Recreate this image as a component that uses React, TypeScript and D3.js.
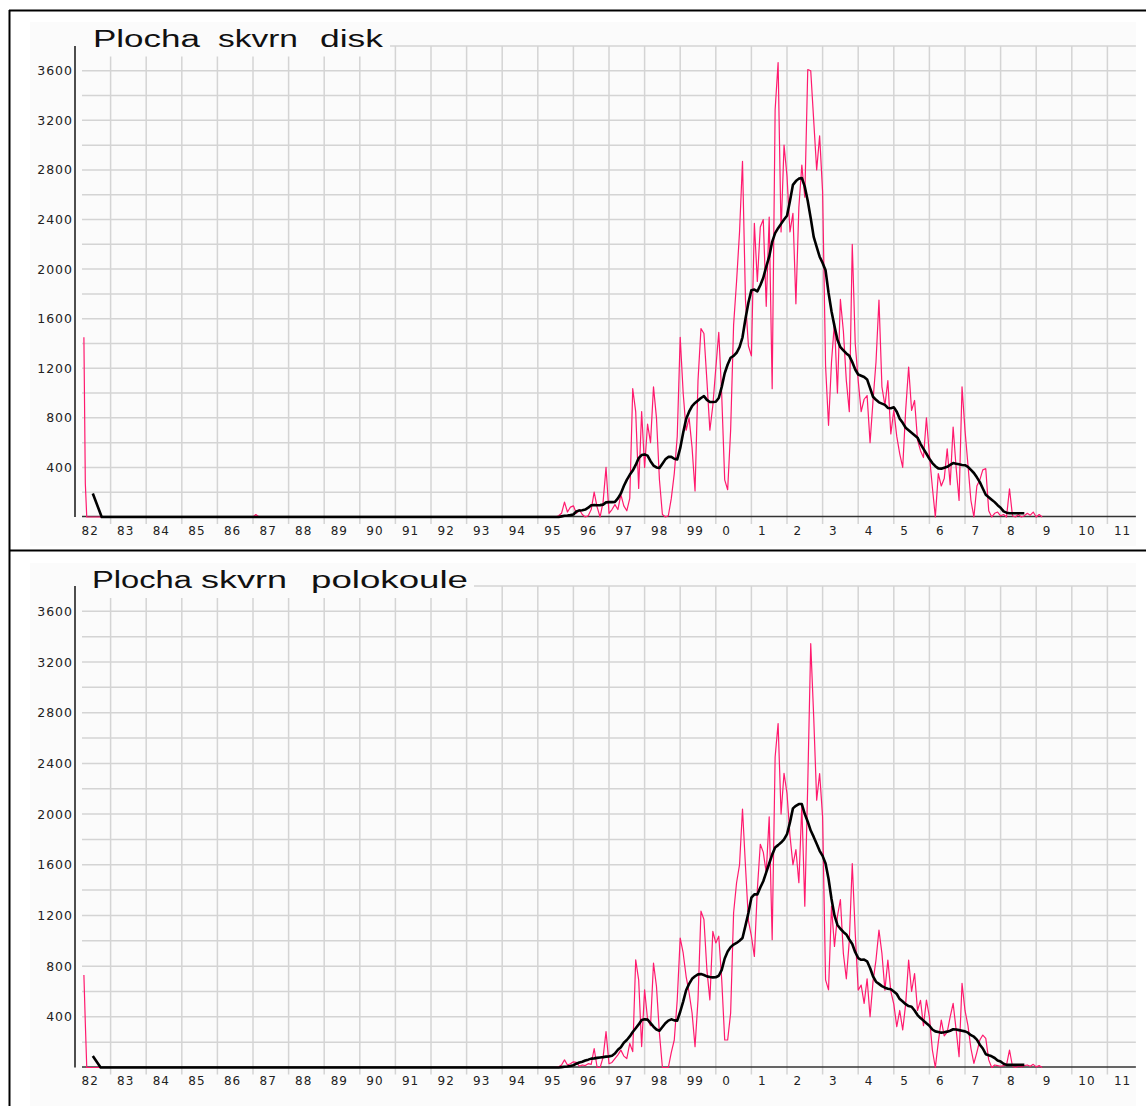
import React from 'react';
import * as d3 from 'd3';

const W = 1146;
const H = 1106;

// ---------- axis data ----------
const X_START = 1982;
const X_END = 2011.8;
const gridYears = d3.range(1983, 2012);
const labelYears = d3.range(1982, 2012);
const xTickLabels = ['82','83','84','85','86','87','88','89','90','91','92','93','94','95','96','97','98','99','0','1','2','3','4','5','6','7','8','9','10','11'];
const yTickValues = [400, 800, 1200, 1600, 2000, 2400, 2800, 3200, 3600];
const yGridValues = [200, 400, 600, 800, 1000, 1200, 1400, 1600, 1800, 2000, 2200, 2400, 2600, 2800, 3000, 3200, 3400, 3600, 3800];

// ---------- series data ----------
const MONTHLY_START = 1995.5; // July 1995, one value per month

// Panel 1 : "Plocha skvrn disk"
const diskPinkEarlyT = [1982.25, 1982.29, 1982.33, 1987.0, 1987.08, 1987.17];
const diskPinkEarlyV = [1450, 270, 0, 0, 20, 0];
const diskBlackEarlyT = [1982.5, 1982.75];
const diskBlackEarlyV = [190, 0];
const diskPink = [
  0, 10, 30, 120, 40, 80,
  90, 30, 60, 20, 0, 10, 60, 200, 80, 0, 120, 400,
  30, 60, 100, 60, 180, 90, 50, 150, 1035, 850, 230, 850,
  400, 750, 600, 1050, 800, 300, 20, 0, 10, 150, 350, 650,
  1450, 1000, 700, 800, 560, 210, 1100, 1520, 1480, 1100, 700, 900,
  1200, 1490, 980, 300, 220, 700, 1550, 1900, 2300, 2870, 1750, 1380,
  1300, 2370, 1900, 2340, 2400, 1700, 2420, 1035, 3285, 3667, 2300, 3000,
  2750, 2300, 2450, 1720, 2500, 2840, 2580, 3610, 3600, 3200, 2800, 3075,
  2625, 1220, 740, 1250, 1570, 1000, 1755, 1500, 1100, 850, 2200, 1400,
  1100, 850, 950, 980, 600, 940, 1250, 1750, 1050, 900, 1100, 670,
  860, 650, 510, 400, 860, 1210, 860, 940, 620, 535, 480, 800,
  500, 240, 0, 350, 250, 310, 550, 260, 726, 400, 133, 1050,
  700, 420, 133, 0, 250, 300, 380, 390, 50, 0, 30, 40,
  10, 20, 0, 228, 10, 0, 20, 0, 10, 30, 15, 40,
  0, 20, 0,
];
const diskBlack = [
  0, 0, 5, 10, 12, 15,
  20, 45, 52, 55, 60, 75, 95, 96, 95, 96, 100, 118,
  120, 120, 122, 150, 190, 250, 300, 340, 375, 420, 475, 500,
  505, 495, 450, 415, 400, 395, 430, 465, 485, 485, 470, 465,
  555, 680, 790, 850, 895, 920, 940, 960, 975, 945, 928, 928,
  930, 960, 1050, 1160, 1230, 1285, 1300, 1325, 1370, 1450, 1600, 1730,
  1830, 1835, 1820, 1870, 1930, 2020, 2100, 2220, 2290, 2330, 2365, 2400,
  2430, 2550, 2680, 2710, 2730, 2735, 2665, 2550, 2410, 2260, 2180, 2100,
  2050, 1990, 1810, 1660, 1540, 1430, 1370, 1345, 1320, 1300, 1250, 1190,
  1150, 1140, 1130, 1110, 1040, 970, 945, 925, 915, 905, 880, 878,
  885, 850, 793, 760, 720, 700, 680, 660, 640, 590, 550, 510,
  470, 435, 410, 392, 390, 398, 405, 420, 435, 430, 425, 420,
  418, 405, 380, 355, 320, 281, 230, 180, 160, 140, 120, 95,
  75, 45, 35, 30, 30, 30, 30, 30, 30,
];

// Panel 2 : "Plocha skvrn polokoule"
const hemiPinkEarlyT = [1982.25, 1982.29, 1982.33];
const hemiPinkEarlyV = [730, 350, 0];
const hemiBlackEarlyT = [1982.5, 1982.72];
const hemiBlackEarlyV = [90, 0];
const hemiPink = [
  0, 5, 20, 60, 20, 30,
  45, 40, 10, 20, 15, 30, 25, 150, 0, 0, 80, 283,
  30, 40, 70, 100, 137, 90, 71, 190, 125, 850, 692, 165,
  613, 380, 330, 824, 640, 270, 0, 0, 0, 120, 217, 534,
  1022, 904, 718, 590, 430, 164, 534, 1234, 1168, 770, 534, 1075,
  983, 1036, 690, 217, 217, 430, 1221, 1458, 1600, 2040, 1590, 1160,
  1036, 877, 1405, 1762, 1700, 1538, 1978, 1009, 2451, 2715, 2000, 2322,
  2164, 1830, 1600, 1720, 1458, 2070, 1273, 2241, 3345, 2767, 2110, 2320,
  1978, 692, 613, 1273, 956, 1194, 1326, 900, 700, 1000, 1610, 1059,
  611, 650, 506, 700, 401, 680, 850, 1084, 900, 611, 848, 600,
  500, 322, 450, 296, 500, 848, 600, 742, 450, 530, 330, 532,
  400, 138, 0, 200, 375, 250, 280, 400, 506, 300, 86, 664,
  450, 330, 150, 32, 120, 217, 256, 230, 60, 0, 20, 15,
  10, 15, 20, 138, 10, 0, 10, 5, 15, 20, 10, 25,
  5, 15, 0,
];
const hemiBlack = [
  0, 0, 3, 6, 8, 12,
  18, 30, 40, 45, 55, 62, 70, 72, 76, 79, 82, 86,
  88, 92, 110, 140, 160, 195, 217, 245, 280, 310, 340, 375,
  380, 378, 350, 322, 300, 290, 320, 349, 370, 380, 372, 370,
  440, 520, 610, 660, 700, 720, 735, 737, 730, 719, 714, 711,
  712, 724, 770, 860, 915, 950, 970, 983, 1000, 1022, 1120, 1221,
  1340, 1366, 1366, 1420, 1470, 1540, 1610, 1680, 1736, 1755, 1775, 1800,
  1841, 1934, 2045, 2065, 2079, 2079, 2000, 1940, 1870, 1820, 1765, 1710,
  1670, 1610, 1490, 1330, 1200, 1125, 1095, 1070, 1050, 1010, 975, 910,
  864, 850, 851, 838, 785, 720, 677, 660, 642, 630, 622, 618,
  600, 580, 540, 520, 500, 485, 480, 450, 414, 390, 370, 349,
  330, 300, 285, 280, 275, 278, 283, 290, 302, 300, 295, 290,
  285, 275, 255, 243, 220, 180, 150, 105, 96, 88, 75, 55,
  47, 30, 21, 21, 21, 21, 21, 21, 21,
];

const diskTitle = ['Plocha', 'skvrn', 'disk'];
const hemiTitle = ['Plocha', 'skvrn', 'polokoule'];

type Pt = { t: number; v: number };

function buildSeries(earlyT: number[], earlyV: number[], monthly: number[]): Pt[] {
  const early = earlyT.map((t, i) => ({ t, v: earlyV[i] }));
  const main = monthly.map((v, i) => ({ t: MONTHLY_START + i / 12, v }));
  return [...early, ...main];
}

const PINK = '#ff1a6e';
const GRID = '#d4d4d4';
const BG = '#fbfbfb';

type PanelProps = {
  yTop: number;
  yZero: number;
  bgTop: number;
  bgBottom: number;
  titleBaseline: number;
  titleWords: string[];
  titleX: number[];
  titleW: number[];
  coverRight: number;
  pink: Pt[];
  black: Pt[];
};

function Panel(p: PanelProps) {
  const x = d3.scaleLinear().domain([X_START, X_END]).range([75, 75 + (X_END - X_START) * 35.6]);
  const y = d3.scaleLinear().domain([0, 3800]).range([p.yZero, p.yTop]);
  const line = d3.line<Pt>().x((d) => x(d.t)).y((d) => y(d.v));
  const xRight = x(X_END);
  return (
    <g>
      <rect x={30} y={p.bgTop} width={xRight - 30} height={p.bgBottom - p.bgTop} fill={BG} />
      {yGridValues.map((v) => (
        <line key={'h' + v} x1={82} x2={xRight} y1={y(v)} y2={y(v)} stroke={GRID} strokeWidth={1.5} />
      ))}
      {gridYears.map((yr) => (
        <line key={'v' + yr} x1={x(yr)} x2={x(yr)} y1={p.yTop} y2={p.yZero + 7} stroke={GRID} strokeWidth={1.5} />
      ))}
      <rect x={79} y={p.bgTop} width={p.coverRight - 79} height={p.titleBaseline + 10 - p.bgTop} fill={BG} />
      {p.titleWords.map((w, i) => (
        <text
          key={w + i}
          x={p.titleX[i]}
          y={p.titleBaseline}
          fontFamily="'Liberation Sans', Arial, sans-serif"
          fontSize={23.5}
          textLength={p.titleW[i]}
          lengthAdjust="spacingAndGlyphs"
          fill="#111"
        >
          {w}
        </text>
      ))}
      <line x1={75} x2={75} y1={p.yTop} y2={p.yZero} stroke="#222" strokeWidth={1.6} />
      <line x1={82} x2={xRight} y1={p.yZero - 0.5} y2={p.yZero - 0.5} stroke="#333" strokeWidth={1.3} />
      <path d={line(p.pink) || ''} fill="none" stroke={PINK} strokeWidth={1.2} strokeLinejoin="round" />
      <path d={line(p.black) || ''} fill="none" stroke="#000" strokeWidth={2.6} strokeLinejoin="round" />
      {yTickValues.map((v) => (
        <text
          key={'yl' + v}
          x={73}
          y={y(v) + 4.5}
          textAnchor="end"
          fontFamily="'DejaVu Sans', Verdana, sans-serif"
          fontSize={12.5}
          letterSpacing={1}
          fill="#222"
        >
          {v}
        </text>
      ))}
      {labelYears.map((yr, i) => (
        <text
          key={'xl' + yr}
          x={x(yr) + 6.5}
          y={p.yZero + 17.5}
          fontFamily="'DejaVu Sans', Verdana, sans-serif"
          fontSize={12}
          letterSpacing={1}
          fill="#222"
        >
          {xTickLabels[i]}
        </text>
      ))}
    </g>
  );
}

export default function App() {
  const diskPinkS = buildSeries(diskPinkEarlyT, diskPinkEarlyV, diskPink);
  const diskBlackS = buildSeries(diskBlackEarlyT, diskBlackEarlyV, diskBlack);
  const hemiPinkS = buildSeries(hemiPinkEarlyT, hemiPinkEarlyV, hemiPink);
  const hemiBlackS = buildSeries(hemiBlackEarlyT, hemiBlackEarlyV, hemiBlack);
  return (
    <svg
      width={W}
      height={H}
      style={{ position: 'absolute', left: 0, top: 0, background: '#fff' }}
    >
      <Panel
        yTop={46}
        yZero={517}
        bgTop={22}
        bgBottom={546}
        titleBaseline={46.5}
        titleWords={diskTitle}
        titleX={[93, 218, 320]}
        titleW={[107, 80, 63]}
        coverRight={390}
        pink={diskPinkS}
        black={diskBlackS}
      />
      <Panel
        yTop={586}
        yZero={1067.5}
        bgTop={563}
        bgBottom={1106}
        titleBaseline={588}
        titleWords={hemiTitle}
        titleX={[92, 201, 311]}
        titleW={[100, 86, 157]}
        coverRight={474}
        pink={hemiPinkS}
        black={hemiBlackS}
      />
      <line x1={9} x2={W} y1={10.5} y2={10.5} stroke="#000" strokeWidth={2} />
      <line x1={9.5} x2={9.5} y1={10} y2={H} stroke="#000" strokeWidth={2} />
      <line x1={9} x2={W} y1={550.5} y2={550.5} stroke="#000" strokeWidth={2} />
    </svg>
  );
}
